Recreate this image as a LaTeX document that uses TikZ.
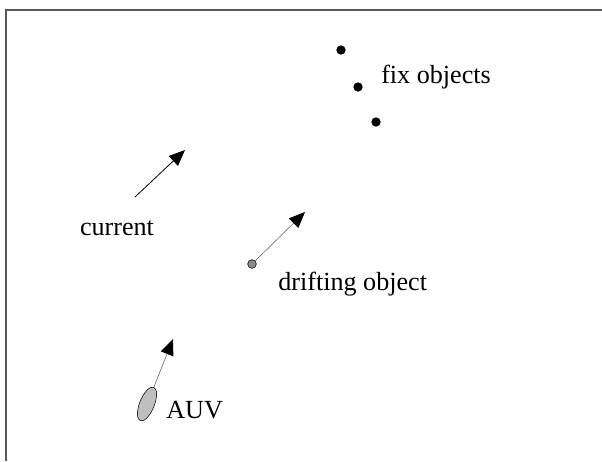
\documentclass[tikz,border=0pt]{standalone}
\usepackage{fontspec}
\setmainfont{Liberation Serif}
\usetikzlibrary{arrows.meta,positioning,shapes.geometric}
\tikzset{
    fixdot/.style={circle,fill=black,inner sep=0pt,minimum size=7pt},
    driftdot/.style={circle,draw,fill=black!45,inner sep=0pt,minimum size=6.5pt,thin},
    auvbody/.style={ellipse,draw,fill=black!25,inner sep=0pt,minimum width=11pt,minimum height=27pt,rotate=-22},
    scenelabel/.style={font=\fontsize{19.6}{23}\selectfont,inner sep=0pt},
    currentline/.style={-{Triangle[length=12pt,width=10pt]},line width=0.6pt},
    moveline/.style={-{Triangle[length=12pt,width=10pt,color=black]},draw=black!55,line width=0.5pt},
    frameline/.style={draw=black!65,line width=1.3pt}
}
\begin{document}
\begin{tikzpicture}[x=0.75pt,y=-0.75pt]
            \useasboundingbox (0,0) rectangle (602,461);
            % frame
            \coordinate (frametl) at (6,10);
            \coordinate (framebl) at (6,461);
            \coordinate (frametr) at (602,10);
            \draw[frameline] (framebl) -- (frametl) -- (frametr);
            % fix objects
            \node[fixdot] (fixa) at (341,50) {};
            \node[fixdot] (fixb) at (358,87) {};
            \node[fixdot] (fixc) at (376,122) {};
            \node[scenelabel,anchor=west] (fixlabel) at (381,77) {fix objects};
            % current
            \coordinate (curtail) at (135,197);
            \coordinate (curhead) at (185,150);
            \draw[currentline] (curtail) -- (curhead);
            \node[scenelabel] (curlabel) at (117,228) {current};
            % drifting object
            \node[driftdot] (drift) at (252,264) {};
            \coordinate (drifthead) at (305,212);
            \draw[moveline] (drift) -- (drifthead);
            \node[scenelabel,anchor=west] (driftlabel) at (278,284) {drifting object};
            % AUV
            \node[auvbody] (auv) at (147,404) {};
            \coordinate (auvhead) at (173,339);
            \draw[moveline] (auv.north) -- (auvhead);
            \node[scenelabel,anchor=west] (auvlabel) at (166,410) {AUV};
        \end{tikzpicture}
\end{document}
